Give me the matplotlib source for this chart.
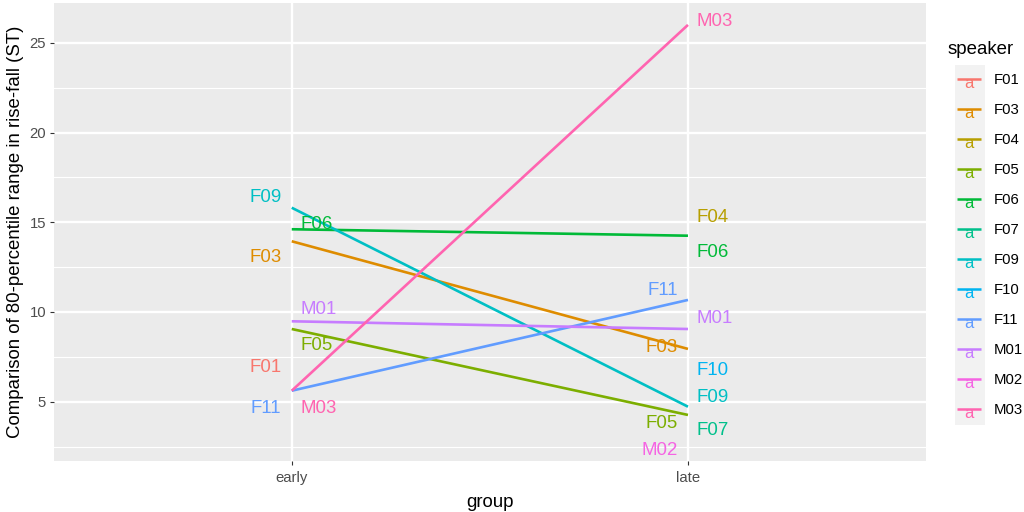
import matplotlib.pyplot as plt
import numpy as np
from matplotlib.patches import Rectangle

plt.rcParams["font.family"] = ["Liberation Sans", "DejaVu Sans"]

speakers = ["F01", "F03", "F04", "F05", "F06", "F07", "F09", "F10", "F11", "M01", "M02", "M03"]
colours = ["#F8766D", "#DE8C00", "#B79F00", "#7CAE00", "#00BA38", "#00C08B",
           "#00BFC4", "#00B4F0", "#619CFF", "#C77CFF", "#F564E3", "#FF64B0"]
groups = ["early", "late"]

# 80-percentile rise-fall range (ST); nan where the speaker has no value in that group
early = [7.0, 13.94, np.nan, 9.05, 14.61, np.nan, 15.81, np.nan, 5.61, 9.48, np.nan, 5.61]
late = [np.nan, 7.94, 15.3, 4.26, 14.25, 3.5, 4.72, 6.9, 10.67, 9.05, 2.9, 26.0]

# repelled label heights, and which side of the group they sit on
early_labels = {"F09": ("left", 16.47), "F06": ("right", 14.98), "F03": ("left", 13.12),
                "M01": ("right", 10.24), "F05": ("right", 8.26), "F01": ("left", 7.01),
                "F11": ("left", 4.72), "M03": ("right", 4.72)}
late_labels = {"M03": ("right", 26.28), "F04": ("right", 15.35), "F06": ("right", 13.40),
               "F11": ("left", 11.32), "M01": ("right", 9.74), "F03": ("left", 8.12),
               "F10": ("right", 6.86), "F09": ("right", 5.32), "F05": ("left", 3.92),
               "F07": ("right", 3.52), "M02": ("left", 2.40)}

fig = plt.figure(figsize=(10.24, 5.12), dpi=100)
ax = fig.add_axes([54 / 1024, 1 - 460.7 / 512, (925.7 - 54) / 1024, (460.7 - 3) / 512])

# ggplot grey theme
ax.set_facecolor("#EBEBEB")
for side in ax.spines.values():
    side.set_visible(False)
ax.set_axisbelow(True)
ax.set_yticks([5, 10, 15, 20, 25])
ax.set_yticks([2.5, 7.5, 12.5, 17.5, 22.5], minor=True)
ax.set_xticks([0, 1])
ax.set_xticklabels(groups)
ax.grid(True, which="major", color="white", linewidth=1.7)
ax.grid(True, which="minor", axis="y", color="white", linewidth=0.85)
ax.tick_params(which="major", length=3.2, width=0.8, color="#333333",
               labelsize=10.7, labelcolor="#4D4D4D", pad=2.5)
ax.tick_params(axis="x", which="major", pad=4.5)
ax.tick_params(which="minor", length=0)

for i, spk in enumerate(speakers):
    if not (np.isnan(early[i]) or np.isnan(late[i])):
        ax.plot([0, 1], [early[i], late[i]], color=colours[i], linewidth=1.9,
                solid_capstyle="butt", zorder=3)

for xpos, labels in ((0, early_labels), (1, late_labels)):
    for spk, (side, ylab) in labels.items():
        col = colours[speakers.index(spk)]
        if side == "left":
            ax.annotate(spk, xy=(xpos, ylab), xytext=(-10.3, 0), textcoords="offset pixels",
                        ha="right", va="center_baseline", color=col, fontsize=13.4, zorder=4)
        else:
            ax.annotate(spk, xy=(xpos, ylab), xytext=(8.7, 0), textcoords="offset pixels",
                        ha="left", va="center_baseline", color=col, fontsize=13.4, zorder=4)

ax.set_xlim(-0.6, 1.6)
ax.set_ylim(1.71, 27.22)
ax.set_xlabel("group", fontsize=13.4, labelpad=6.5)
ax.set_ylabel("Comparison of 80-percentile range in rise-fall (ST)", fontsize=13.4, labelpad=4)

# legend drawn in pixel space
leg = fig.add_axes([0, 0, 1, 1], zorder=5)
leg.set_xlim(0, 1024)
leg.set_ylim(512, 0)
leg.axis("off")
leg.patch.set_alpha(0)
leg.text(948, 49, "speaker", fontsize=13.4, ha="left", va="center")
key_top = 65
key_h = 30
for i, spk in enumerate(speakers):
    y0 = key_top + i * key_h
    leg.add_patch(Rectangle((955, y0), 30, key_h, facecolor="#F2F2F2", edgecolor="none"))
    yc = y0 + key_h / 2
    leg.plot([957, 981], [yc - 1, yc - 1], color=colours[i], linewidth=1.8, solid_capstyle="butt")
    leg.text(969, yc + 3, "a", color=colours[i], fontsize=12, ha="center", va="center")
    leg.text(994, yc, spk, fontsize=10.7, ha="left", va="center")

fig.savefig("out.png", dpi=100)
